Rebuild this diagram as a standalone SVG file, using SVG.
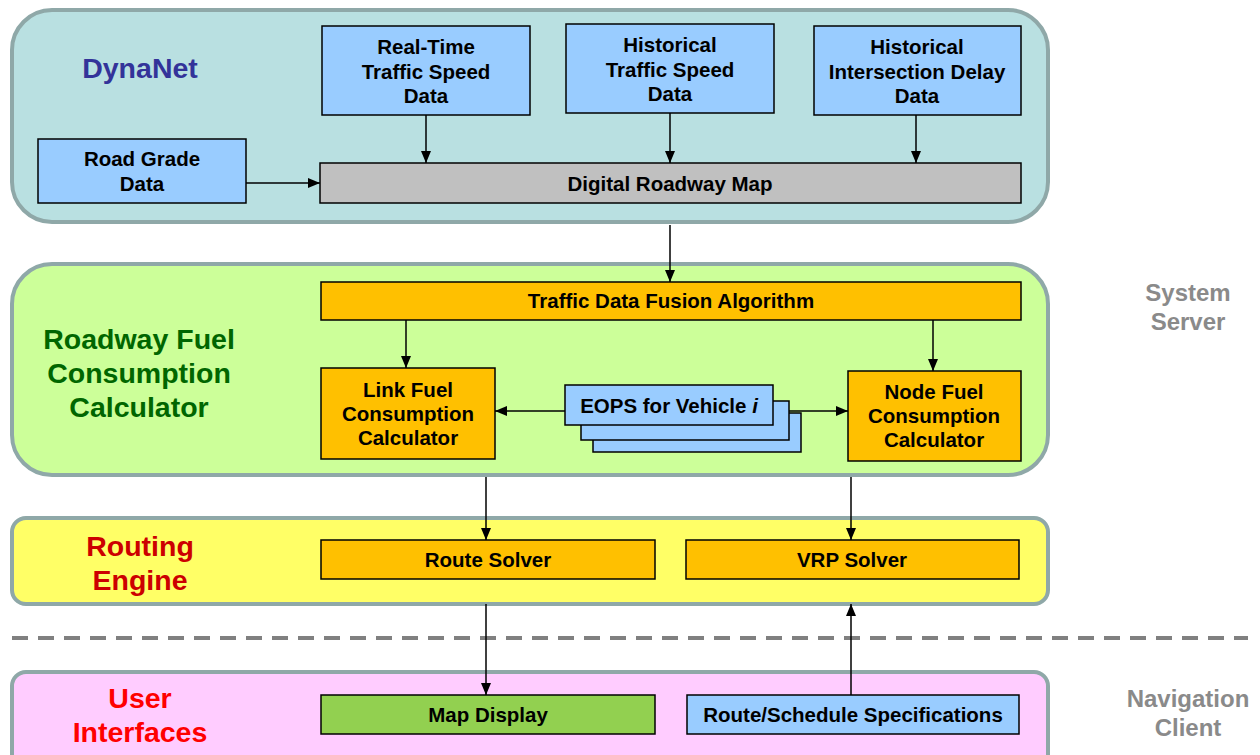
<svg xmlns="http://www.w3.org/2000/svg" width="1260" height="755" viewBox="0 0 1260 755">
<defs>
<marker id="ah" viewBox="0 0 12 10" refX="12" refY="5" markerWidth="12" markerHeight="10" markerUnits="userSpaceOnUse" orient="auto"><path d="M0,0 L12,5 L0,10 z" fill="#000"/></marker>
<style>
.panel{stroke:#8FA8A8;stroke-width:4}
.box{stroke:#000;stroke-width:1.5}
.blue{fill:#99CCFF}
.orange{fill:#FFC000}
.t{font-family:"Liberation Sans",Arial,sans-serif;font-weight:bold;font-size:20.5px;text-anchor:middle;fill:#000}
.big{font-family:"Liberation Sans",Arial,sans-serif;font-weight:bold;font-size:28.5px;text-anchor:middle}
.side{font-family:"Liberation Sans",Arial,sans-serif;font-weight:bold;font-size:24px;text-anchor:middle;fill:#8A8A8A}
.c{stroke:#000;stroke-width:1.5;fill:none;marker-end:url(#ah)}
</style>
</defs>
<rect width="1260" height="755" fill="#fff"/>
<g id="panel-dynanet">
<rect class="panel" x="12" y="10" width="1036" height="212" rx="40" fill="#B9E0E1"/>
<text class="big" x="140" y="78" fill="#333399">DynaNet</text>
</g>
<g id="panel-fuel">
<rect class="panel" x="12" y="264" width="1036" height="211" rx="40" fill="#CCFF99"/>
<text class="big" fill="#006600"><tspan x="139" y="349">Roadway Fuel</tspan><tspan x="139" y="383">Consumption</tspan><tspan x="139" y="417">Calculator</tspan></text>
</g>
<g id="panel-routing">
<rect class="panel" x="12" y="518" width="1036" height="86" rx="14" fill="#FFFF66"/>
<text class="big" fill="#CC0000"><tspan x="140" y="556">Routing</tspan><tspan x="140" y="590">Engine</tspan></text>
</g>
<g id="separator">
<line x1="12" y1="638" x2="1248" y2="638" stroke="#808080" stroke-width="4" stroke-dasharray="16,10"/>
</g>
<g id="panel-ui">
<rect class="panel" x="12" y="672" width="1036" height="100" rx="14" fill="#FFCCFF"/>
<text class="big" fill="#FF0000"><tspan x="140" y="708">User</tspan><tspan x="140" y="742">Interfaces</tspan></text>
</g>
<g id="label-server"><text class="side"><tspan x="1188" y="301">System</tspan><tspan x="1188" y="330">Server</tspan></text></g>
<g id="label-client"><text class="side"><tspan x="1188" y="707">Navigation</tspan><tspan x="1188" y="736">Client</tspan></text></g>

<g id="realtime"><rect class="box blue" x="322" y="26" width="208" height="89"/><text class="t"><tspan x="426" y="54">Real-Time</tspan><tspan x="426" y="79">Traffic Speed</tspan><tspan x="426" y="103">Data</tspan></text></g>
<g id="histspeed"><rect class="box blue" x="566" y="24" width="208" height="89"/><text class="t"><tspan x="670" y="52">Historical</tspan><tspan x="670" y="77">Traffic Speed</tspan><tspan x="670" y="101">Data</tspan></text></g>
<g id="histdelay"><rect class="box blue" x="814" y="26" width="207" height="89"/><text class="t"><tspan x="917" y="54">Historical</tspan><tspan x="917" y="79">Intersection Delay</tspan><tspan x="917" y="103">Data</tspan></text></g>
<g id="roadgrade"><rect class="box blue" x="38" y="139" width="208" height="64"/><text class="t"><tspan x="142" y="166">Road Grade</tspan><tspan x="142" y="191">Data</tspan></text></g>
<g id="roadmap"><rect class="box" x="320" y="163" width="701" height="40" fill="#C0C0C0"/><text class="t" x="670" y="191">Digital Roadway Map</text></g>

<g id="fusion"><rect class="box orange" x="321" y="282" width="700" height="38"/><text class="t" x="671" y="308">Traffic Data Fusion Algorithm</text></g>
<g id="linkfuel"><rect class="box orange" x="321" y="368" width="174" height="91"/><text class="t"><tspan x="408" y="397">Link Fuel</tspan><tspan x="408" y="421">Consumption</tspan><tspan x="408" y="445">Calculator</tspan></text></g>
<g id="nodefuel"><rect class="box orange" x="848" y="371" width="173" height="90"/><text class="t"><tspan x="934" y="399">Node Fuel</tspan><tspan x="934" y="423">Consumption</tspan><tspan x="934" y="447">Calculator</tspan></text></g>
<g id="eops">
<rect class="box blue" x="593" y="413" width="208" height="39"/>
<rect class="box blue" x="581" y="401" width="208" height="39"/>
<rect class="box blue" x="565" y="385" width="208" height="40"/>
<text class="t" x="669" y="413">EOPS for Vehicle <tspan font-style="italic">i</tspan></text>
</g>

<g id="routesolver"><rect class="box orange" x="321" y="540" width="334" height="39"/><text class="t" x="488" y="567">Route Solver</text></g>
<g id="vrpsolver"><rect class="box orange" x="686" y="540" width="333" height="39"/><text class="t" x="852" y="567">VRP Solver</text></g>

<g id="mapdisplay"><rect class="box" x="321" y="695" width="334" height="39" fill="#92D050"/><text class="t" x="488" y="722">Map Display</text></g>
<g id="routespec"><rect class="box blue" x="687" y="695" width="332" height="39"/><text class="t" x="853" y="722">Route/Schedule Specifications</text></g>

<g id="connectors">
<line class="c" x1="426" y1="115" x2="426" y2="163"/>
<line class="c" x1="670" y1="113" x2="670" y2="163"/>
<line class="c" x1="916" y1="115" x2="916" y2="163"/>
<line class="c" x1="246" y1="183" x2="320" y2="183"/>
<line class="c" x1="670" y1="225" x2="670" y2="282"/>
<line class="c" x1="406" y1="320" x2="406" y2="368"/>
<line class="c" x1="933" y1="320" x2="933" y2="371"/>
<line class="c" x1="565" y1="411" x2="495" y2="411"/>
<line class="c" x1="789" y1="411" x2="848" y2="411"/>
<line class="c" x1="486" y1="477" x2="486" y2="540"/>
<line class="c" x1="851" y1="477" x2="851" y2="540"/>
<line class="c" x1="486" y1="604" x2="486" y2="695"/>
<line class="c" x1="851" y1="695" x2="851" y2="604"/>
</g>
</svg>
